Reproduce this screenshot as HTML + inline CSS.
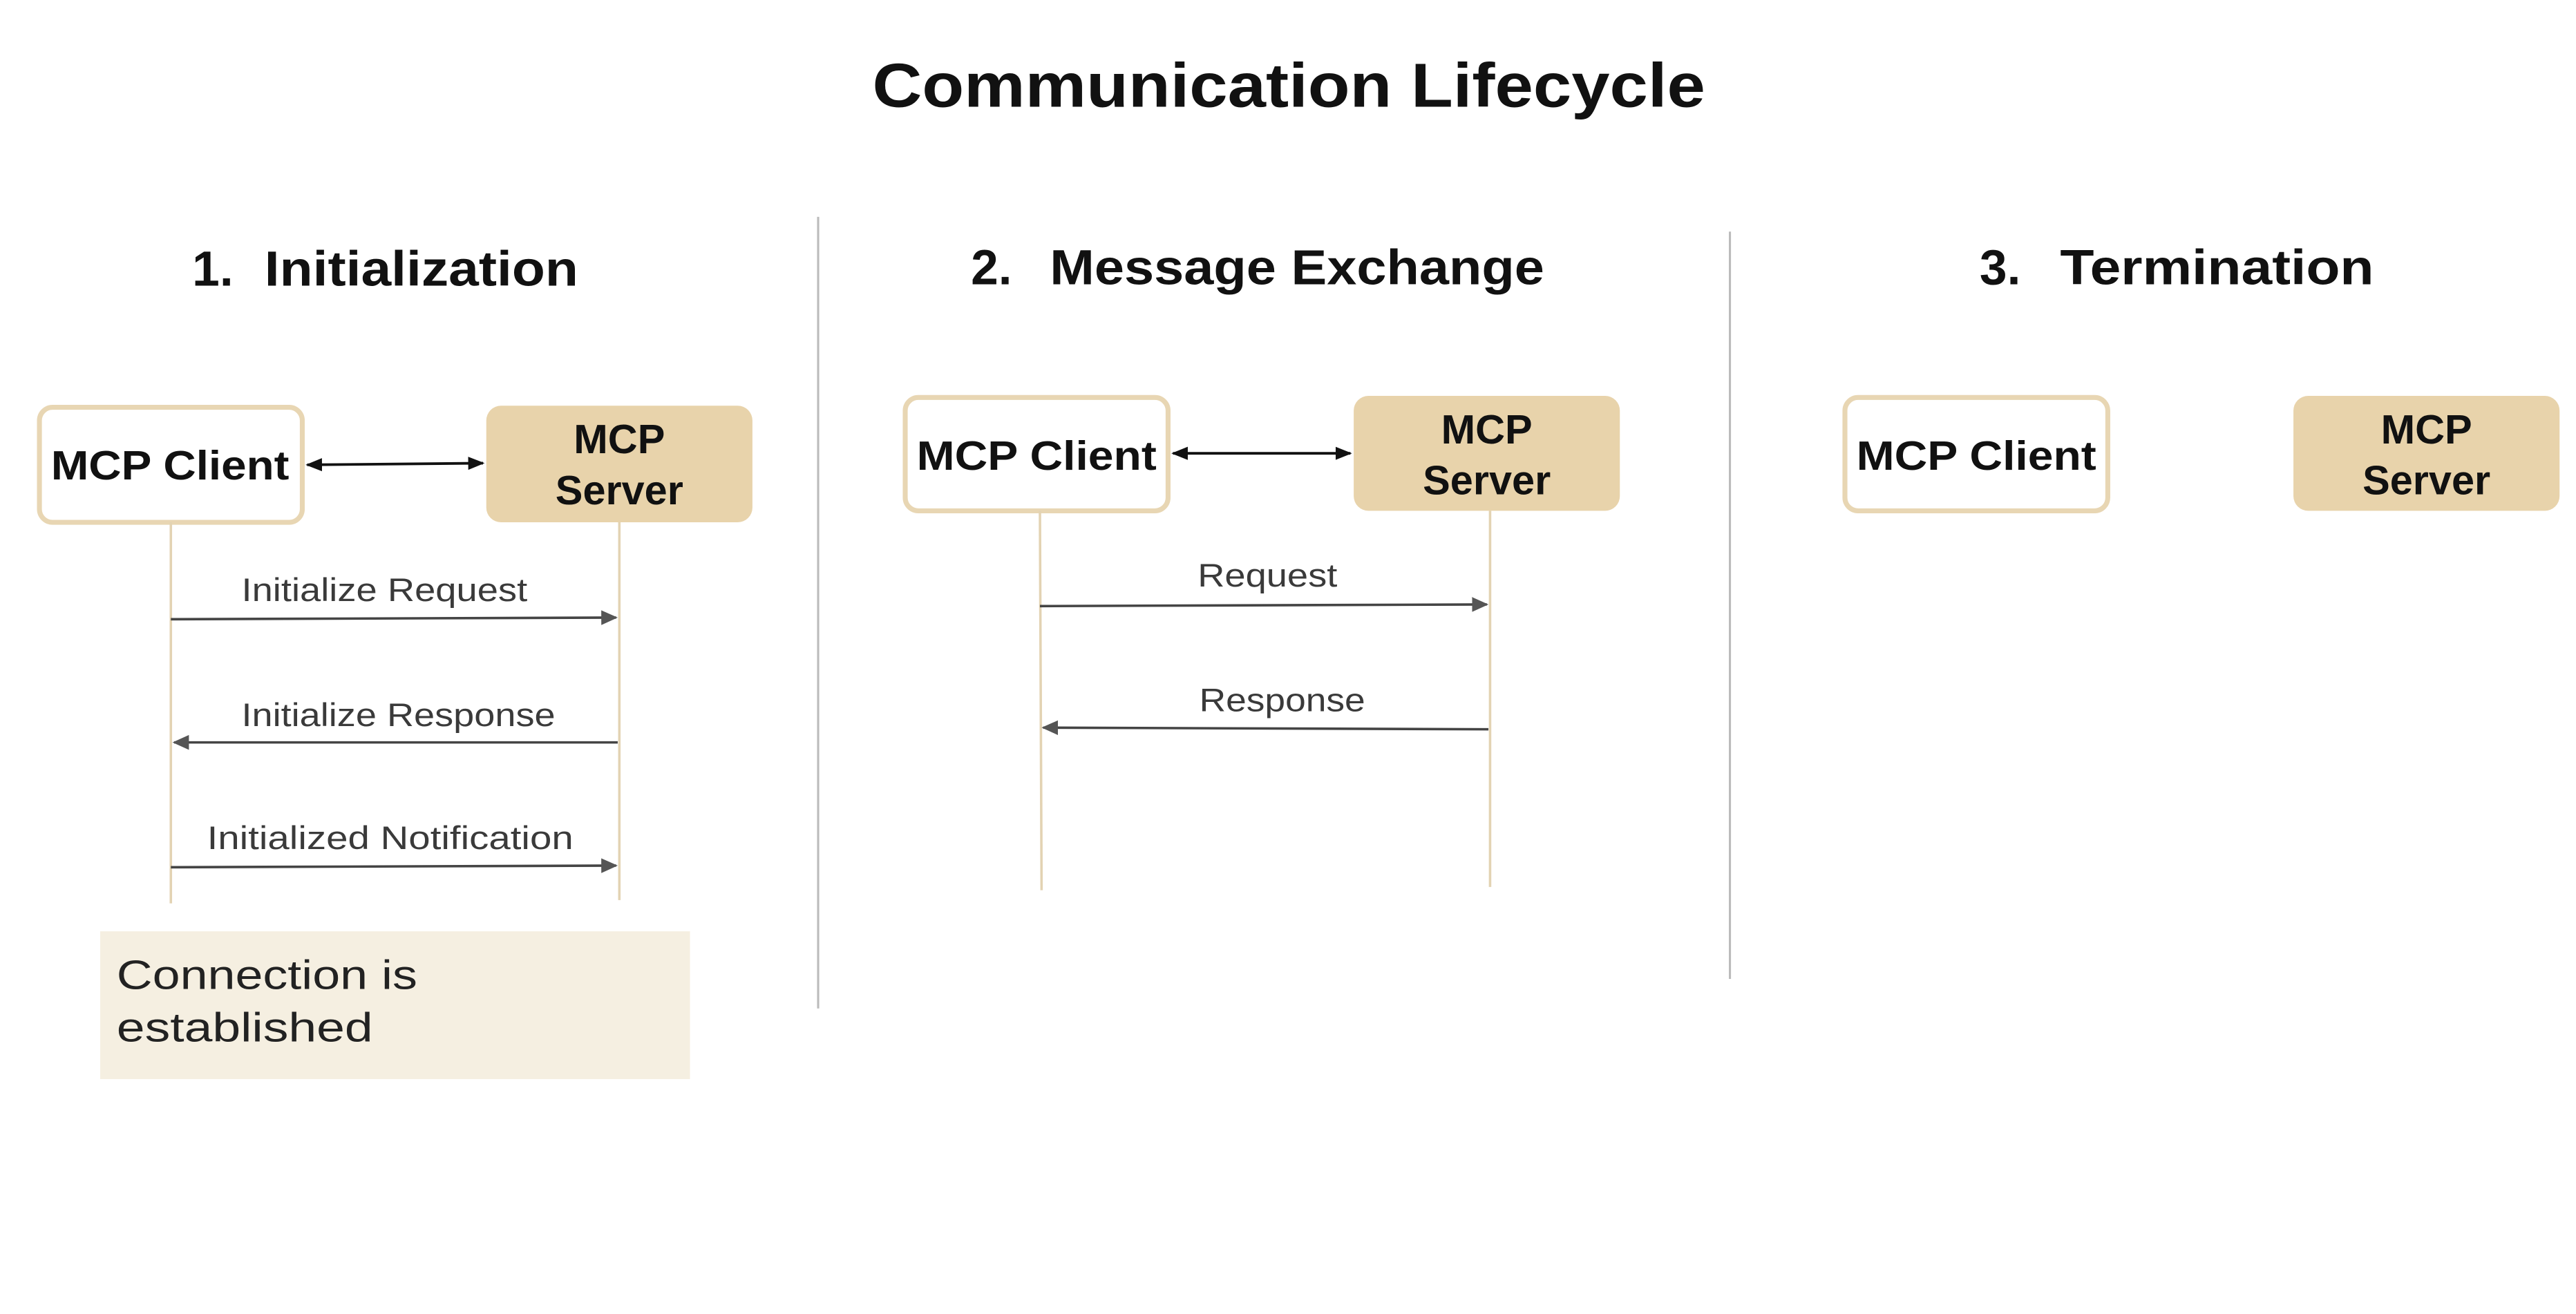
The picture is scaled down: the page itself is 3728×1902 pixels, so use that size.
<!DOCTYPE html>
<html><head><meta charset="utf-8"><style>
html,body{margin:0;padding:0;background:#fff;width:3728px;height:1902px;overflow:hidden}
svg{display:block}
text{font-family:"Liberation Sans",sans-serif}
.h{font-weight:bold;fill:#111}
.b{font-weight:bold;fill:#111;font-size:25px}
.m{fill:#3a3a3a;font-size:20px}
</style></head><body>
<svg width="3728" height="1902" viewBox="0 0 1568 800" preserveAspectRatio="none">
<defs>
<marker id="g" markerWidth="10" markerHeight="10" refX="9" refY="5" orient="auto" markerUnits="userSpaceOnUse"><path d="M0,0.5 L10,5 L0,9.5z" fill="#555"/></marker>
<marker id="k" markerWidth="10" markerHeight="10" refX="9" refY="5" orient="auto-start-reverse" markerUnits="userSpaceOnUse"><path d="M0,1 L10,5 L0,9z" fill="#111"/></marker>
</defs>
<text x="531" y="65" class="h" font-size="38" textLength="507" lengthAdjust="spacingAndGlyphs">Communication Lifecycle</text>
<line x1="498" y1="132" x2="498" y2="614" stroke="#bbb" stroke-width="1.3"/>
<line x1="1053" y1="141" x2="1053" y2="596" stroke="#bbb" stroke-width="1.3"/>
<text x="117" y="174" class="h" font-size="30">1.</text>
<text x="161" y="174" class="h" font-size="30" textLength="191" lengthAdjust="spacingAndGlyphs">Initialization</text>
<text x="591" y="173" class="h" font-size="30">2.</text>
<text x="639" y="173" class="h" font-size="30" textLength="301" lengthAdjust="spacingAndGlyphs">Message Exchange</text>
<text x="1205" y="173" class="h" font-size="30">3.</text>
<text x="1254" y="173" class="h" font-size="30" textLength="191" lengthAdjust="spacingAndGlyphs">Termination</text>

<!-- section 1 -->
<rect x="24" y="248" width="160" height="70" rx="8" fill="#fff" stroke="#e8d6b3" stroke-width="3"/>
<rect x="296" y="247" width="162" height="71" rx="9" fill="#e8d3ab"/>
<text x="31" y="292" class="b" textLength="145" lengthAdjust="spacingAndGlyphs">MCP Client</text>
<text x="377" y="276" text-anchor="middle" class="b">MCP</text>
<text x="377" y="307" text-anchor="middle" class="b">Server</text>
<line x1="187" y1="283" x2="294" y2="282" stroke="#111" stroke-width="1.6" marker-start="url(#k)" marker-end="url(#k)"/>
<line x1="104" y1="318" x2="104" y2="550" stroke="#e3d3b3" stroke-width="1.5"/>
<line x1="377" y1="318" x2="377" y2="548" stroke="#e3d3b3" stroke-width="1.5"/>
<text x="147" y="366" class="m" textLength="174" lengthAdjust="spacingAndGlyphs">Initialize Request</text>
<line x1="104" y1="377" x2="375" y2="376" stroke="#444" stroke-width="1.5" marker-end="url(#g)"/>
<text x="147" y="442" class="m" textLength="191" lengthAdjust="spacingAndGlyphs">Initialize Response</text>
<line x1="376" y1="452" x2="106" y2="452" stroke="#444" stroke-width="1.5" marker-end="url(#g)"/>
<text x="126" y="517" class="m" textLength="223" lengthAdjust="spacingAndGlyphs">Initialized Notification</text>
<line x1="104" y1="528" x2="375" y2="527" stroke="#444" stroke-width="1.5" marker-end="url(#g)"/>
<rect x="61" y="567" width="359" height="90" fill="#f5efe1"/>
<text x="71" y="602" font-size="25" fill="#222" textLength="183" lengthAdjust="spacingAndGlyphs">Connection is</text>
<text x="71" y="634" font-size="25" fill="#222" textLength="156" lengthAdjust="spacingAndGlyphs">established</text>

<!-- section 2 -->
<rect x="551" y="242" width="160" height="69" rx="8" fill="#fff" stroke="#e8d6b3" stroke-width="3"/>
<rect x="824" y="241" width="162" height="70" rx="9" fill="#e8d3ab"/>
<text x="558" y="286" class="b" textLength="146" lengthAdjust="spacingAndGlyphs">MCP Client</text>
<text x="905" y="270" text-anchor="middle" class="b">MCP</text>
<text x="905" y="301" text-anchor="middle" class="b">Server</text>
<line x1="714" y1="276" x2="822" y2="276" stroke="#111" stroke-width="1.6" marker-start="url(#k)" marker-end="url(#k)"/>
<line x1="633" y1="311" x2="634" y2="542" stroke="#e3d3b3" stroke-width="1.5"/>
<line x1="907" y1="311" x2="907" y2="540" stroke="#e3d3b3" stroke-width="1.5"/>
<text x="729" y="357" class="m" textLength="85" lengthAdjust="spacingAndGlyphs">Request</text>
<line x1="633" y1="369" x2="905" y2="368" stroke="#444" stroke-width="1.5" marker-end="url(#g)"/>
<text x="730" y="433" class="m" textLength="101" lengthAdjust="spacingAndGlyphs">Response</text>
<line x1="906" y1="444" x2="635" y2="443" stroke="#444" stroke-width="1.5" marker-end="url(#g)"/>

<!-- section 3 -->
<rect x="1123" y="242" width="160" height="69" rx="8" fill="#fff" stroke="#e8d6b3" stroke-width="3"/>
<rect x="1396" y="241" width="162" height="70" rx="9" fill="#e8d3ab"/>
<text x="1130" y="286" class="b" textLength="146" lengthAdjust="spacingAndGlyphs">MCP Client</text>
<text x="1477" y="270" text-anchor="middle" class="b">MCP</text>
<text x="1477" y="301" text-anchor="middle" class="b">Server</text>
</svg>
</body></html>
